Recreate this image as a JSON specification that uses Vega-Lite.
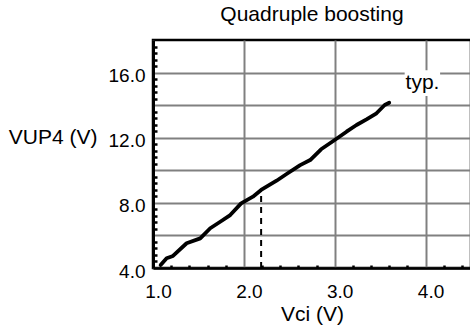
{
  "$schema": "https://vega.github.io/schema/vega-lite/v6.json",
  "autosize": "none",
  "padding": {"left": 153, "top": 40, "right": 0, "bottom": 61},
  "width": 318,
  "height": 228,
  "config": {
    "font": "Liberation Sans",
    "view": {"stroke": "black", "strokeWidth": 2.5},
    "axis": {"labelFont": "Liberation Sans", "titleFont": "Liberation Sans", "labelColor": "black", "titleColor": "black", "titleFontWeight": "normal"}
  },
  "title": {"text": "Quadruple boosting", "fontSize": 21, "fontWeight": "normal", "anchor": "middle", "baseline": "alphabetic", "offset": 16, "dy": 18, "color": "black"},
  "datasets": {
    "curve": [
      {"x": 1.084, "y": 4.18},
      {"x": 1.15, "y": 4.6},
      {"x": 1.22, "y": 4.74},
      {"x": 1.37, "y": 5.52},
      {"x": 1.52, "y": 5.82},
      {"x": 1.63, "y": 6.44},
      {"x": 1.74, "y": 6.84},
      {"x": 1.85, "y": 7.25},
      {"x": 1.97, "y": 7.97},
      {"x": 2.1, "y": 8.38},
      {"x": 2.19, "y": 8.79},
      {"x": 2.36, "y": 9.36},
      {"x": 2.47, "y": 9.77},
      {"x": 2.62, "y": 10.32},
      {"x": 2.73, "y": 10.63},
      {"x": 2.85, "y": 11.29},
      {"x": 3.0, "y": 11.86},
      {"x": 3.13, "y": 12.37},
      {"x": 3.24, "y": 12.78},
      {"x": 3.35, "y": 13.13},
      {"x": 3.46, "y": 13.5},
      {"x": 3.55, "y": 14.01},
      {"x": 3.6, "y": 14.15}
    ],
    "marker": [{"x": 2.19, "y": 4.0, "y2": 8.79}],
    "box": [{"x": 3.77, "x2": 4.16, "y": 14.56, "y2": 16.15}],
    "note": [{"x": 3.966, "y": 14.99, "label": "typ."}]
  },
  "layer": [
    {
      "data": {"name": "curve"},
      "mark": {"type": "line", "color": "black", "strokeWidth": 3.8, "interpolate": "linear", "strokeCap": "round", "strokeJoin": "round"},
      "encoding": {
        "x": {"field": "x", "type": "quantitative",
          "scale": {"domain": [1, 4.5], "nice": false, "zero": false},
          "axis": {"orient": "bottom", "values": [1, 2, 3, 4], "format": ".1f", "grid": true, "gridColor": "#808080", "gridWidth": 2, "gridOpacity": 1,
            "ticks": false, "domain": true, "domainColor": "black", "domainWidth": 2.5,
            "labelFontSize": 19, "labelBaseline": "alphabetic", "labelPadding": 29, "labelOffset": 5, "labelFlush": false,
            "title": "Vci (V)", "titleFontSize": 21, "titleBaseline": "alphabetic", "titleY": 52}},
        "y": {"field": "y", "type": "quantitative",
          "scale": {"domain": [4, 18], "nice": false, "zero": false},
          "axis": {"orient": "left", "values": [4, 6, 8, 10, 12, 14, 16], "grid": true, "gridColor": "#808080", "gridWidth": 2, "gridOpacity": 1,
            "labelExpr": "datum.value % 4 == 0 ? format(datum.value, '.1f') : ''",
            "ticks": false, "domain": true, "domainColor": "black", "domainWidth": 3,
            "labelFontSize": 19, "labelBaseline": "alphabetic", "labelPadding": 8, "labelOffset": 9, "labelFlush": false,
            "title": "VUP4 (V)", "titleFontSize": 21, "titleAngle": 0, "titleAlign": "right", "titleBaseline": "alphabetic", "titleX": -56, "titleY": 103}}
      }
    },
    {
      "data": {"name": "marker"},
      "mark": {"type": "rule", "color": "black", "strokeWidth": 2, "strokeDash": [6, 5]},
      "encoding": {
        "x": {"field": "x", "type": "quantitative",
          "axis": {"orient": "bottom", "values": [1.2, 1.4, 1.6, 1.8, 2.2, 2.4, 2.6, 2.8, 3.2, 3.4, 3.6, 3.8, 4.2, 4.4],
            "grid": false, "domain": false, "labels": false, "ticks": true, "tickSize": -3, "tickWidth": 2.5, "tickColor": "black", "title": null}},
        "y": {"field": "y", "type": "quantitative",
          "axis": {"orient": "left", "values": [4.4, 4.8, 5.2, 5.6, 6.4, 6.8, 7.2, 7.6, 8.4, 8.8, 9.2, 9.6, 10.4, 10.8, 11.2, 11.6, 12.4, 12.8, 13.2, 13.6, 14.4, 14.8, 15.2, 15.6, 16.4, 16.8, 17.2, 17.6],
            "grid": false, "domain": false, "labels": false, "ticks": true, "tickSize": -4, "tickWidth": 2.5, "tickColor": "black", "title": null}},
        "y2": {"field": "y2"}
      }
    },
    {
      "data": {"name": "box"},
      "mark": {"type": "rect", "color": "white", "opacity": 1},
      "encoding": {
        "x": {"field": "x", "type": "quantitative", "axis": null},
        "x2": {"field": "x2"},
        "y": {"field": "y", "type": "quantitative", "axis": null},
        "y2": {"field": "y2"}
      }
    },
    {
      "data": {"name": "note"},
      "mark": {"type": "text", "fontSize": 21, "align": "center", "baseline": "alphabetic", "color": "black"},
      "encoding": {
        "x": {"field": "x", "type": "quantitative", "axis": null},
        "y": {"field": "y", "type": "quantitative", "axis": null},
        "text": {"field": "label"}
      }
    }
  ],
  "resolve": {"axis": {"x": "independent", "y": "independent"}}
}
